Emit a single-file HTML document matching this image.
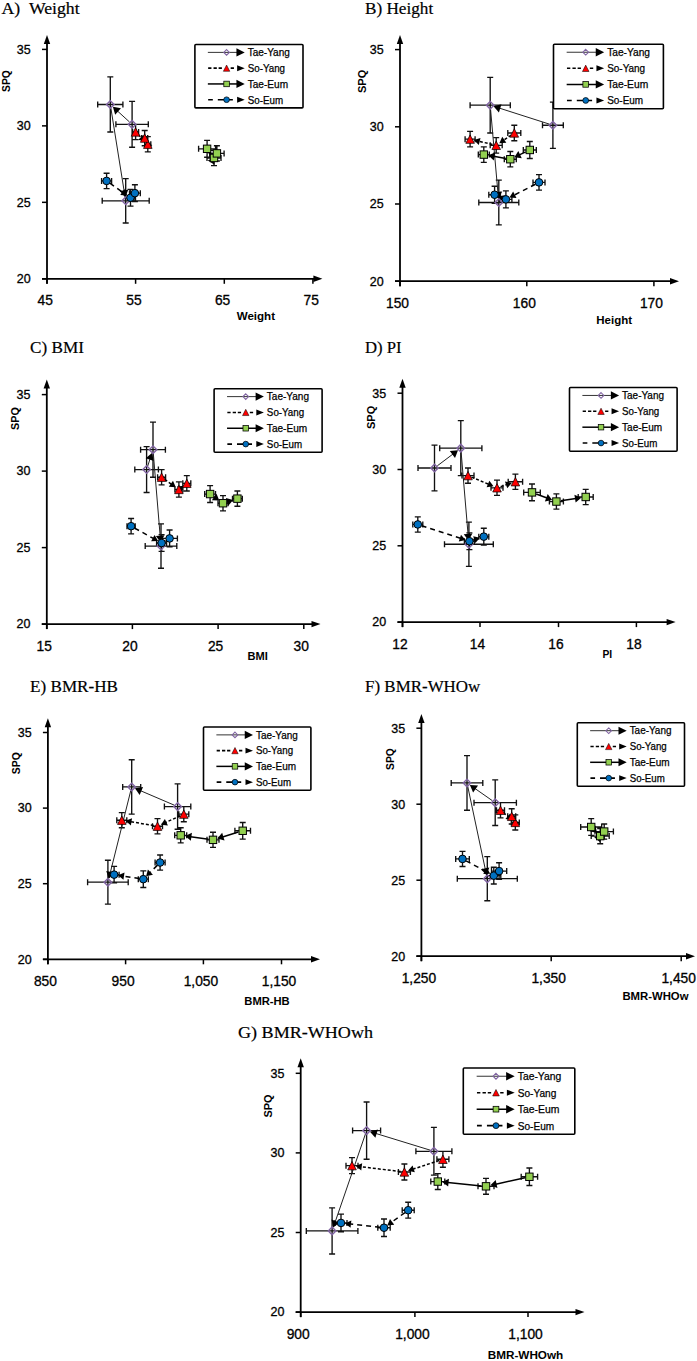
<!DOCTYPE html>
<html><head><meta charset="utf-8"><style>
html,body{margin:0;padding:0;background:#fff;}
svg{display:block;}
</style></head><body>
<svg width="697" height="1361" viewBox="0 0 697 1361">
<rect width="697" height="1361" fill="#fff"/>
<text x="1.4" y="13.6" style="font-family:'Liberation Serif',serif;font-size:17.5px" stroke="#000" stroke-width="0.2" textLength="78.2" lengthAdjust="spacingAndGlyphs">A)  Weight</text>
<path d="M47 283.8V42" stroke="#000" stroke-width="1.8" fill="none"/>
<path d="M47 35L50.2 44L43.8 44Z" fill="#000"/>
<path d="M42 278.8H315.4" stroke="#000" stroke-width="1.8" fill="none"/>
<path d="M322.4 278.8L313.4 275.6L313.4 282Z" fill="#000"/>
<path d="M42 278.8H47" stroke="#000" stroke-width="1.5"/>
<text x="30.7" y="283.1" text-anchor="end" style="font-family:'Liberation Sans',sans-serif;font-size:12.5px" stroke="#000" stroke-width="0.3">20</text>
<path d="M42 202.33H47" stroke="#000" stroke-width="1.5"/>
<text x="30.7" y="206.63" text-anchor="end" style="font-family:'Liberation Sans',sans-serif;font-size:12.5px" stroke="#000" stroke-width="0.3">25</text>
<path d="M42 125.87H47" stroke="#000" stroke-width="1.5"/>
<text x="30.7" y="130.17" text-anchor="end" style="font-family:'Liberation Sans',sans-serif;font-size:12.5px" stroke="#000" stroke-width="0.3">30</text>
<path d="M42 49.4H47" stroke="#000" stroke-width="1.5"/>
<text x="30.7" y="53.7" text-anchor="end" style="font-family:'Liberation Sans',sans-serif;font-size:12.5px" stroke="#000" stroke-width="0.3">35</text>
<path d="M47 278.8V283.8" stroke="#000" stroke-width="1.5"/>
<text x="45.3" y="305.2" text-anchor="middle" style="font-family:'Liberation Sans',sans-serif;font-size:13.8px" stroke="#000" stroke-width="0.3">45</text>
<path d="M135.6 278.8V283.8" stroke="#000" stroke-width="1.5"/>
<text x="133.9" y="305.2" text-anchor="middle" style="font-family:'Liberation Sans',sans-serif;font-size:13.8px" stroke="#000" stroke-width="0.3">55</text>
<path d="M224.3 278.8V283.8" stroke="#000" stroke-width="1.5"/>
<text x="222.6" y="305.2" text-anchor="middle" style="font-family:'Liberation Sans',sans-serif;font-size:13.8px" stroke="#000" stroke-width="0.3">65</text>
<path d="M312.9 278.8V283.8" stroke="#000" stroke-width="1.5"/>
<text x="311.2" y="305.2" text-anchor="middle" style="font-family:'Liberation Sans',sans-serif;font-size:13.8px" stroke="#000" stroke-width="0.3">75</text>
<text x="236.7" y="319.6" style="font-family:'Liberation Sans',sans-serif;font-size:10.5px;font-weight:bold" textLength="38.3" lengthAdjust="spacingAndGlyphs">Weight</text>
<text transform="translate(10.3 92) rotate(-90)" x="0" y="0" style="font-family:'Liberation Sans',sans-serif;font-size:11px;font-weight:bold" textLength="21.8" lengthAdjust="spacingAndGlyphs">SPQ</text>
<path d="M132.1 101.4V147.28M115.9 124.34H148.3M129.1 101.4H135.1M129.1 147.28H135.1M115.9 121.34V127.34M148.3 121.34V127.34M110.3 76.93V131.98M97.7 104.46H122.9M107.3 76.93H113.3M107.3 131.98H113.3M97.7 101.46V107.46M122.9 101.46V107.46M125.7 178.63V222.98M102.2 200.8H149.2M122.7 178.63H128.7M122.7 222.98H128.7M102.2 197.8V203.8M149.2 197.8V203.8M135.6 124.34V139.63M132.6 131.98H138.6M132.6 124.34H138.6M132.6 139.63H138.6M132.6 128.98V134.98M138.6 128.98V134.98M147.8 136.57V151.87M144.8 144.22H150.8M144.8 136.57H150.8M144.8 151.87H150.8M144.8 141.22V147.22M150.8 141.22V147.22M144.7 130.45V145.75M141.7 138.1H147.7M141.7 130.45H147.7M141.7 145.75H147.7M141.7 135.1V141.1M147.7 135.1V141.1M207.1 140.4V157.22M198.6 148.81H215.6M204.1 140.4H210.1M204.1 157.22H210.1M198.6 145.81V151.81M215.6 145.81V151.81M214 150.34V165.63M207 157.98H221M211 150.34H217M211 165.63H217M207 154.98V160.98M221 154.98V160.98M216.9 145.75V161.04M209.7 153.39H224.1M213.9 145.75H219.9M213.9 161.04H219.9M209.7 150.39V156.39M224.1 150.39V156.39M106.6 173.28V188.57M101.6 180.92H111.6M103.6 173.28H109.6M103.6 188.57H109.6M101.6 177.92V183.92M111.6 177.92V183.92M130.5 189.33V206.16M125.5 197.75H135.5M127.5 189.33H133.5M127.5 206.16H133.5M125.5 194.75V200.75M135.5 194.75V200.75M134.9 184.75V201.57M129.5 193.16H140.3M131.9 184.75H137.9M131.9 201.57H137.9M129.5 190.16V196.16M140.3 190.16V196.16" stroke="#111" stroke-width="1.35" fill="none"/>
<path d="M129.51 121.98L116.95 110.52" stroke="#222" stroke-width="1" fill="none"/>
<path d="M112.89 106.81L120.96 108.35L115.16 114.71Z" fill="#000"/>
<path d="M110.85 107.91L124.28 191.92" stroke="#222" stroke-width="1" fill="none"/>
<path d="M125.15 197.35L119.8 191.11L128.29 189.76Z" fill="#000"/>
<path d="M138.28 134.67L141.23 137.63" stroke="#000" stroke-width="1.5" stroke-dasharray="3 2" fill="none"/>
<path d="M145.12 141.53L138.33 139.82L143.43 134.74Z" fill="#000"/>
<path d="M146.08 140.83L148.9 146.4" stroke="#000" stroke-width="1.5" stroke-dasharray="3 2" fill="none"/>
<path d="M146.42 141.49L152.34 145.22L145.92 148.47Z" fill="#000"/>
<path d="M209.8 152.4L207.99 149.99" stroke="#000" stroke-width="1.5" fill="none"/>
<path d="M211.3 154.39L204.31 151.75L210.71 146.95Z" fill="#000"/>
<path d="M216.4 154.18L211.56 161.85" stroke="#000" stroke-width="1.5" fill="none"/>
<path d="M214.5 157.2L214.51 164.66L207.75 160.39Z" fill="#000"/>
<path d="M109.87 183.23L122.73 192.28" stroke="#000" stroke-width="1.5" stroke-dasharray="5 4" fill="none"/>
<path d="M127.23 195.44L120.25 194.93L124.39 189.05Z" fill="#000"/>
<path d="M133.27 194.86L128.32 200.01" stroke="#000" stroke-width="1.5" stroke-dasharray="5 4" fill="none"/>
<path d="M132.13 196.04L130.58 202.87L125.38 197.88Z" fill="#000"/>
<path d="M132.1 120.54L135.9 124.34L132.1 128.14L128.3 124.34Z" fill="none" stroke="#8064A2" stroke-width="1.4"/>
<path d="M110.3 100.66L114.1 104.46L110.3 108.26L106.5 104.46Z" fill="none" stroke="#8064A2" stroke-width="1.4"/>
<path d="M125.7 197L129.5 200.8L125.7 204.6L121.9 200.8Z" fill="none" stroke="#8064A2" stroke-width="1.4"/>
<path d="M135.6 127.78L139.9 136.18L131.3 136.18Z" fill="#FF0000" stroke="#000" stroke-width="0.7" stroke-linejoin="round"/>
<path d="M147.8 140.02L152.1 148.42L143.5 148.42Z" fill="#FF0000" stroke="#000" stroke-width="0.7" stroke-linejoin="round"/>
<path d="M144.7 133.9L149 142.3L140.4 142.3Z" fill="#FF0000" stroke="#000" stroke-width="0.7" stroke-linejoin="round"/>
<rect x="203.4" y="145.11" width="7.4" height="7.4" fill="#92D050" stroke="#000" stroke-width="1"/>
<rect x="210.3" y="154.28" width="7.4" height="7.4" fill="#92D050" stroke="#000" stroke-width="1"/>
<rect x="213.2" y="149.69" width="7.4" height="7.4" fill="#92D050" stroke="#000" stroke-width="1"/>
<circle cx="106.6" cy="180.92" r="3.8" fill="#0070C0" stroke="#000" stroke-width="1"/>
<circle cx="130.5" cy="197.75" r="3.8" fill="#0070C0" stroke="#000" stroke-width="1"/>
<circle cx="134.9" cy="193.16" r="3.8" fill="#0070C0" stroke="#000" stroke-width="1"/>
<rect x="194.9" y="44.5" width="108.1" height="63.4" rx="1" fill="#fff" stroke="#000" stroke-width="1.6"/>
<path d="M207.85 52.39H238.74" stroke="#333" stroke-width="1.0" fill="none"/>
<path d="M244.72 52.39L236.45 48.3L236.45 56.47Z" fill="#000"/>
<path d="M226.58 49.55L229.42 52.39L226.58 55.23L223.74 52.39Z" fill="none" stroke="#8064A2" stroke-width="1.05"/>
<text x="247.7" y="56.17" style="font-family:'Liberation Sans',sans-serif;font-size:10.5px" stroke="#000" stroke-width="0.25" textLength="42.14" lengthAdjust="spacingAndGlyphs">Tae-Yang</text>
<path d="M208.15 68.16H211.44M213.53 68.16H216.82M218.61 68.16H221.9M230.67 68.16H233.96" stroke="#000" stroke-width="1.59" fill="none"/>
<path d="M244.72 68.16L237.14 65.18L237.14 71.15Z" fill="#000"/>
<path d="M226.58 65.03L229.8 71.3L223.37 71.3Z" fill="#FF0000" stroke="#000" stroke-width="0.52" stroke-linejoin="round"/>
<text x="247.7" y="71.95" style="font-family:'Liberation Sans',sans-serif;font-size:10.5px" stroke="#000" stroke-width="0.25" textLength="37.36" lengthAdjust="spacingAndGlyphs">So-Yang</text>
<path d="M207.85 83.94H238.74" stroke="#000" stroke-width="1.5" fill="none"/>
<path d="M244.72 83.94L236.45 79.86L236.45 88.03Z" fill="#000"/>
<rect x="223.82" y="81.18" width="5.53" height="5.53" fill="#92D050" stroke="#000" stroke-width="0.75"/>
<text x="247.7" y="87.73" style="font-family:'Liberation Sans',sans-serif;font-size:10.5px" stroke="#000" stroke-width="0.25" textLength="40.35" lengthAdjust="spacingAndGlyphs">Tae-Eum</text>
<path d="M208.15 99.72H212.83M217.82 99.72H232.86" stroke="#000" stroke-width="1.59" fill="none"/>
<path d="M244.72 99.72L237.14 96.73L237.14 102.71Z" fill="#000"/>
<circle cx="226.58" cy="99.72" r="2.84" fill="#0070C0" stroke="#000" stroke-width="0.75"/>
<text x="247.7" y="103.5" style="font-family:'Liberation Sans',sans-serif;font-size:10.5px" stroke="#000" stroke-width="0.25" textLength="35.37" lengthAdjust="spacingAndGlyphs">So-Eum</text>
<text x="365" y="13.9" style="font-family:'Liberation Serif',serif;font-size:17.5px" stroke="#000" stroke-width="0.2" textLength="68.2" lengthAdjust="spacingAndGlyphs">B) Height</text>
<path d="M400 286.2V41.9" stroke="#000" stroke-width="1.8" fill="none"/>
<path d="M400 34.9L403.2 43.9L396.8 43.9Z" fill="#000"/>
<path d="M395 281.2H672" stroke="#000" stroke-width="1.8" fill="none"/>
<path d="M679 281.2L670 278L670 284.4Z" fill="#000"/>
<path d="M395 281.2H400" stroke="#000" stroke-width="1.5"/>
<text x="383.7" y="285.5" text-anchor="end" style="font-family:'Liberation Sans',sans-serif;font-size:12.5px" stroke="#000" stroke-width="0.3">20</text>
<path d="M395 204H400" stroke="#000" stroke-width="1.5"/>
<text x="383.7" y="208.3" text-anchor="end" style="font-family:'Liberation Sans',sans-serif;font-size:12.5px" stroke="#000" stroke-width="0.3">25</text>
<path d="M395 126.8H400" stroke="#000" stroke-width="1.5"/>
<text x="383.7" y="131.1" text-anchor="end" style="font-family:'Liberation Sans',sans-serif;font-size:12.5px" stroke="#000" stroke-width="0.3">30</text>
<path d="M395 49.6H400" stroke="#000" stroke-width="1.5"/>
<text x="383.7" y="53.9" text-anchor="end" style="font-family:'Liberation Sans',sans-serif;font-size:12.5px" stroke="#000" stroke-width="0.3">35</text>
<path d="M400 281.2V286.2" stroke="#000" stroke-width="1.5"/>
<text x="397.5" y="307.6" text-anchor="middle" style="font-family:'Liberation Sans',sans-serif;font-size:13.8px" stroke="#000" stroke-width="0.3">150</text>
<path d="M526.8 281.2V286.2" stroke="#000" stroke-width="1.5"/>
<text x="524.3" y="307.6" text-anchor="middle" style="font-family:'Liberation Sans',sans-serif;font-size:13.8px" stroke="#000" stroke-width="0.3">160</text>
<path d="M653.9 281.2V286.2" stroke="#000" stroke-width="1.5"/>
<text x="651.4" y="307.6" text-anchor="middle" style="font-family:'Liberation Sans',sans-serif;font-size:13.8px" stroke="#000" stroke-width="0.3">170</text>
<text x="596.3" y="323.8" style="font-family:'Liberation Sans',sans-serif;font-size:10.5px;font-weight:bold" textLength="35.7" lengthAdjust="spacingAndGlyphs">Height</text>
<text transform="translate(365.5 93) rotate(-90)" x="0" y="0" style="font-family:'Liberation Sans',sans-serif;font-size:11px;font-weight:bold" textLength="23.3" lengthAdjust="spacingAndGlyphs">SPQ</text>
<path d="M552.9 102.1V148.42M542.5 125.26H563.3M549.9 102.1H555.9M549.9 148.42H555.9M542.5 122.26V128.26M563.3 122.26V128.26M490.2 77.39V132.98M470.1 105.18H510.3M487.2 77.39H493.2M487.2 132.98H493.2M470.1 102.18V108.18M510.3 102.18V108.18M498.8 180.07V224.84M478.8 202.46H518.8M495.8 180.07H501.8M495.8 224.84H501.8M478.8 199.46V205.46M518.8 199.46V205.46M514.3 125.26V140.7M507.8 132.98H520.8M511.3 125.26H517.3M511.3 140.7H517.3M507.8 129.98V135.98M520.8 129.98V135.98M496.2 137.61V153.05M490.2 145.33H502.2M493.2 137.61H499.2M493.2 153.05H499.2M490.2 142.33V148.33M502.2 142.33V148.33M470.1 131.43V146.87M465.1 139.15H475.1M467.1 131.43H473.1M467.1 146.87H473.1M465.1 136.15V142.15M475.1 136.15V142.15M529.8 141.47V158.45M523.3 149.96H536.3M526.8 141.47H532.8M526.8 158.45H532.8M523.3 146.96V152.96M536.3 146.96V152.96M510.3 151.5V166.94M504.3 159.22H516.3M507.3 151.5H513.3M507.3 166.94H513.3M504.3 156.22V162.22M516.3 156.22V162.22M483.8 146.87V162.31M478.3 154.59H489.3M480.8 146.87H486.8M480.8 162.31H486.8M478.3 151.59V157.59M489.3 151.59V157.59M539 174.66V190.1M533 182.38H545M536 174.66H542M536 190.1H542M533 179.38V185.38M545 179.38V185.38M505.9 190.88V207.86M499.9 199.37H511.9M502.9 190.88H508.9M502.9 207.86H508.9M499.9 196.37V202.37M511.9 196.37V202.37M494.6 186.24V203.23M488.8 194.74H500.4M491.6 186.24H497.6M491.6 203.23H497.6M488.8 191.74V197.74M500.4 191.74V197.74" stroke="#111" stroke-width="1.35" fill="none"/>
<path d="M549.57 124.19L498.77 107.93" stroke="#222" stroke-width="1" fill="none"/>
<path d="M493.53 106.25L501.51 104.29L498.89 112.48Z" fill="#000"/>
<path d="M490.51 108.67L498.01 193.49" stroke="#222" stroke-width="1" fill="none"/>
<path d="M498.49 198.97L493.59 192.38L502.16 191.62Z" fill="#000"/>
<path d="M511.16 135.12L503.88 140.09" stroke="#000" stroke-width="1.5" stroke-dasharray="3 2" fill="none"/>
<path d="M499.34 143.19L502.27 136.83L506.32 142.78Z" fill="#000"/>
<path d="M492.5 144.45L479.15 141.29" stroke="#000" stroke-width="1.5" stroke-dasharray="3 2" fill="none"/>
<path d="M473.8 140.03L480.47 137.91L478.81 144.91Z" fill="#000"/>
<path d="M525.74 151.89L519.33 154.93" stroke="#000" stroke-width="1.5" fill="none"/>
<path d="M514.36 157.29L518.34 150.98L521.77 158.2Z" fill="#000"/>
<path d="M505.87 158.45L493.65 156.31" stroke="#000" stroke-width="1.5" fill="none"/>
<path d="M488.23 155.37L495.13 152.51L493.75 160.39Z" fill="#000"/>
<path d="M535.44 184.21L514.35 195.03" stroke="#000" stroke-width="1.5" stroke-dasharray="5 4" fill="none"/>
<path d="M509.46 197.54L513.15 191.6L516.44 198.01Z" fill="#000"/>
<path d="M502.2 197.85L503.39 198.34" stroke="#000" stroke-width="1.5" stroke-dasharray="5 4" fill="none"/>
<path d="M498.3 196.25L505.22 195.2L502.49 201.86Z" fill="#000"/>
<path d="M552.9 121.46L556.7 125.26L552.9 129.06L549.1 125.26Z" fill="none" stroke="#8064A2" stroke-width="1.4"/>
<path d="M490.2 101.38L494 105.18L490.2 108.98L486.4 105.18Z" fill="none" stroke="#8064A2" stroke-width="1.4"/>
<path d="M498.8 198.66L502.6 202.46L498.8 206.26L495 202.46Z" fill="none" stroke="#8064A2" stroke-width="1.4"/>
<path d="M514.3 128.78L518.6 137.18L510 137.18Z" fill="#FF0000" stroke="#000" stroke-width="0.7" stroke-linejoin="round"/>
<path d="M496.2 141.13L500.5 149.53L491.9 149.53Z" fill="#FF0000" stroke="#000" stroke-width="0.7" stroke-linejoin="round"/>
<path d="M470.1 134.95L474.4 143.35L465.8 143.35Z" fill="#FF0000" stroke="#000" stroke-width="0.7" stroke-linejoin="round"/>
<rect x="526.1" y="146.26" width="7.4" height="7.4" fill="#92D050" stroke="#000" stroke-width="1"/>
<rect x="506.6" y="155.52" width="7.4" height="7.4" fill="#92D050" stroke="#000" stroke-width="1"/>
<rect x="480.1" y="150.89" width="7.4" height="7.4" fill="#92D050" stroke="#000" stroke-width="1"/>
<circle cx="539" cy="182.38" r="3.8" fill="#0070C0" stroke="#000" stroke-width="1"/>
<circle cx="505.9" cy="199.37" r="3.8" fill="#0070C0" stroke="#000" stroke-width="1"/>
<circle cx="494.6" cy="194.74" r="3.8" fill="#0070C0" stroke="#000" stroke-width="1"/>
<rect x="553.5" y="44.2" width="109.9" height="64.6" rx="1" fill="#fff" stroke="#000" stroke-width="1.6"/>
<path d="M566.67 52.24H598.07" stroke="#333" stroke-width="1.0" fill="none"/>
<path d="M604.15 52.24L595.74 48.08L595.74 56.39Z" fill="#000"/>
<path d="M585.71 49.35L588.6 52.24L585.71 55.12L582.82 52.24Z" fill="none" stroke="#8064A2" stroke-width="1.06"/>
<text x="607.18" y="56.09" style="font-family:'Liberation Sans',sans-serif;font-size:10.5px" stroke="#000" stroke-width="0.25" textLength="42.85" lengthAdjust="spacingAndGlyphs">Tae-Yang</text>
<path d="M566.97 68.31H570.31M572.44 68.31H575.78M577.61 68.31H580.95M589.86 68.31H593.21" stroke="#000" stroke-width="1.62" fill="none"/>
<path d="M604.15 68.31L596.45 65.27L596.45 71.35Z" fill="#000"/>
<path d="M585.71 65.12L588.98 71.5L582.44 71.5Z" fill="#FF0000" stroke="#000" stroke-width="0.53" stroke-linejoin="round"/>
<text x="607.18" y="72.16" style="font-family:'Liberation Sans',sans-serif;font-size:10.5px" stroke="#000" stroke-width="0.25" textLength="37.98" lengthAdjust="spacingAndGlyphs">So-Yang</text>
<path d="M566.67 84.39H598.07" stroke="#000" stroke-width="1.5" fill="none"/>
<path d="M604.15 84.39L595.74 80.23L595.74 88.54Z" fill="#000"/>
<rect x="582.9" y="81.58" width="5.62" height="5.62" fill="#92D050" stroke="#000" stroke-width="0.76"/>
<text x="607.18" y="88.24" style="font-family:'Liberation Sans',sans-serif;font-size:10.5px" stroke="#000" stroke-width="0.25" textLength="41.02" lengthAdjust="spacingAndGlyphs">Tae-Eum</text>
<path d="M566.97 100.46H571.73M576.8 100.46H592.09" stroke="#000" stroke-width="1.62" fill="none"/>
<path d="M604.15 100.46L596.45 97.42L596.45 103.5Z" fill="#000"/>
<circle cx="585.71" cy="100.46" r="2.89" fill="#0070C0" stroke="#000" stroke-width="0.76"/>
<text x="607.18" y="104.31" style="font-family:'Liberation Sans',sans-serif;font-size:10.5px" stroke="#000" stroke-width="0.25" textLength="35.96" lengthAdjust="spacingAndGlyphs">So-Eum</text>
<text x="30.1" y="353.2" style="font-family:'Liberation Serif',serif;font-size:17.5px" stroke="#000" stroke-width="0.2" textLength="53.8" lengthAdjust="spacingAndGlyphs">C) BMI</text>
<path d="M46.8 629.1V386.5" stroke="#000" stroke-width="1.8" fill="none"/>
<path d="M46.8 379.5L50 388.5L43.6 388.5Z" fill="#000"/>
<path d="M41.8 624.1H313.5" stroke="#000" stroke-width="1.8" fill="none"/>
<path d="M320.5 624.1L311.5 620.9L311.5 627.3Z" fill="#000"/>
<path d="M41.8 624.1H46.8" stroke="#000" stroke-width="1.5"/>
<text x="30.5" y="628.4" text-anchor="end" style="font-family:'Liberation Sans',sans-serif;font-size:12.5px" stroke="#000" stroke-width="0.3">20</text>
<path d="M41.8 547.6H46.8" stroke="#000" stroke-width="1.5"/>
<text x="30.5" y="551.9" text-anchor="end" style="font-family:'Liberation Sans',sans-serif;font-size:12.5px" stroke="#000" stroke-width="0.3">25</text>
<path d="M41.8 471.1H46.8" stroke="#000" stroke-width="1.5"/>
<text x="30.5" y="475.4" text-anchor="end" style="font-family:'Liberation Sans',sans-serif;font-size:12.5px" stroke="#000" stroke-width="0.3">30</text>
<path d="M41.8 394.6H46.8" stroke="#000" stroke-width="1.5"/>
<text x="30.5" y="398.9" text-anchor="end" style="font-family:'Liberation Sans',sans-serif;font-size:12.5px" stroke="#000" stroke-width="0.3">35</text>
<path d="M46.8 624.1V629.1" stroke="#000" stroke-width="1.5"/>
<text x="44.3" y="650.5" text-anchor="middle" style="font-family:'Liberation Sans',sans-serif;font-size:13.8px" stroke="#000" stroke-width="0.3">15</text>
<path d="M132.4 624.1V629.1" stroke="#000" stroke-width="1.5"/>
<text x="129.9" y="650.5" text-anchor="middle" style="font-family:'Liberation Sans',sans-serif;font-size:13.8px" stroke="#000" stroke-width="0.3">20</text>
<path d="M218.1 624.1V629.1" stroke="#000" stroke-width="1.5"/>
<text x="215.6" y="650.5" text-anchor="middle" style="font-family:'Liberation Sans',sans-serif;font-size:13.8px" stroke="#000" stroke-width="0.3">25</text>
<path d="M303.8 624.1V629.1" stroke="#000" stroke-width="1.5"/>
<text x="301.3" y="650.5" text-anchor="middle" style="font-family:'Liberation Sans',sans-serif;font-size:13.8px" stroke="#000" stroke-width="0.3">30</text>
<text x="247.6" y="659.9" style="font-family:'Liberation Sans',sans-serif;font-size:10.5px;font-weight:bold" textLength="20.3" lengthAdjust="spacingAndGlyphs">BMI</text>
<text transform="translate(18.8 429.9) rotate(-90)" x="0" y="0" style="font-family:'Liberation Sans',sans-serif;font-size:11px;font-weight:bold" textLength="22.8" lengthAdjust="spacingAndGlyphs">SPQ</text>
<path d="M146.6 446.62V492.52M134.8 469.57H158.4M143.6 446.62H149.6M143.6 492.52H149.6M134.8 466.57V472.57M158.4 466.57V472.57M153 422.14V477.22M140.6 449.68H165.4M150 422.14H156M150 477.22H156M140.6 446.68V452.68M165.4 446.68V452.68M161 523.88V568.25M145.2 546.07H176.8M158 523.88H164M158 568.25H164M145.2 543.07V549.07M176.8 543.07V549.07M161.6 469.57V484.87M157.6 477.22H165.6M158.6 469.57H164.6M158.6 484.87H164.6M157.6 474.22V480.22M165.6 474.22V480.22M178.9 481.81V497.11M174.9 489.46H182.9M175.9 481.81H181.9M175.9 497.11H181.9M174.9 486.46V492.46M182.9 486.46V492.46M186.8 475.69V490.99M182.8 483.34H190.8M183.8 475.69H189.8M183.8 490.99H189.8M182.8 480.34V486.34M190.8 480.34V486.34M210.1 485.63V502.47M204.7 494.05H215.5M207.1 485.63H213.1M207.1 502.47H213.1M204.7 491.05V497.05M215.5 491.05V497.05M223 495.58V510.88M218 503.23H228M220 495.58H226M220 510.88H226M218 500.23V506.23M228 500.23V506.23M237.4 490.99V506.29M232.5 498.64H242.3M234.4 490.99H240.4M234.4 506.29H240.4M232.5 495.64V501.64M242.3 495.64V501.64M131.1 518.53V533.83M127 526.18H135.2M128.1 518.53H134.1M128.1 533.83H134.1M127 523.18V529.18M135.2 523.18V529.18M161.6 534.6V551.42M156.6 543.01H166.6M158.6 534.6H164.6M158.6 551.42H164.6M156.6 540.01V546.01M166.6 540.01V546.01M169.6 530V546.83M161.8 538.42H177.4M166.6 530H172.6M166.6 546.83H172.6M161.8 535.42V541.42M177.4 535.42V541.42" stroke="#111" stroke-width="1.35" fill="none"/>
<path d="M147.67 466.24L150.24 458.25" stroke="#222" stroke-width="1" fill="none"/>
<path d="M151.93 453.01L153.88 460.99L145.69 458.36Z" fill="#000"/>
<path d="M153.29 453.17L160.26 537.1" stroke="#222" stroke-width="1" fill="none"/>
<path d="M160.71 542.58L155.85 535.96L164.42 535.25Z" fill="#000"/>
<path d="M164.7 479.41L171.31 484.09" stroke="#000" stroke-width="1.5" stroke-dasharray="3 2" fill="none"/>
<path d="M175.8 487.27L168.82 486.74L172.98 480.86Z" fill="#000"/>
<path d="M181.9 487.13L179.45 489.04" stroke="#000" stroke-width="1.5" stroke-dasharray="3 2" fill="none"/>
<path d="M183.8 485.67L181.26 492.19L176.85 486.5Z" fill="#000"/>
<path d="M213.77 496.66L214.85 497.43" stroke="#000" stroke-width="1.5" fill="none"/>
<path d="M219.33 500.62L211.88 500.23L216.52 493.71Z" fill="#000"/>
<path d="M227.29 501.86L227.87 501.68" stroke="#000" stroke-width="1.5" fill="none"/>
<path d="M233.11 500.01L228.32 505.73L225.9 498.11Z" fill="#000"/>
<path d="M134.6 528.11L153.28 538.42" stroke="#000" stroke-width="1.5" stroke-dasharray="5 4" fill="none"/>
<path d="M158.1 541.08L151.11 541.33L154.58 535.03Z" fill="#000"/>
<path d="M165.07 541.02L161.36 543.15" stroke="#000" stroke-width="1.5" stroke-dasharray="5 4" fill="none"/>
<path d="M166.13 540.41L162.72 546.52L159.13 540.27Z" fill="#000"/>
<path d="M146.6 465.77L150.4 469.57L146.6 473.37L142.8 469.57Z" fill="none" stroke="#8064A2" stroke-width="1.4"/>
<path d="M153 445.88L156.8 449.68L153 453.48L149.2 449.68Z" fill="none" stroke="#8064A2" stroke-width="1.4"/>
<path d="M161 542.27L164.8 546.07L161 549.87L157.2 546.07Z" fill="none" stroke="#8064A2" stroke-width="1.4"/>
<path d="M161.6 473.02L165.9 481.42L157.3 481.42Z" fill="#FF0000" stroke="#000" stroke-width="0.7" stroke-linejoin="round"/>
<path d="M178.9 485.26L183.2 493.66L174.6 493.66Z" fill="#FF0000" stroke="#000" stroke-width="0.7" stroke-linejoin="round"/>
<path d="M186.8 479.14L191.1 487.54L182.5 487.54Z" fill="#FF0000" stroke="#000" stroke-width="0.7" stroke-linejoin="round"/>
<rect x="206.4" y="490.35" width="7.4" height="7.4" fill="#92D050" stroke="#000" stroke-width="1"/>
<rect x="219.3" y="499.53" width="7.4" height="7.4" fill="#92D050" stroke="#000" stroke-width="1"/>
<rect x="233.7" y="494.94" width="7.4" height="7.4" fill="#92D050" stroke="#000" stroke-width="1"/>
<circle cx="131.1" cy="526.18" r="3.8" fill="#0070C0" stroke="#000" stroke-width="1"/>
<circle cx="161.6" cy="543.01" r="3.8" fill="#0070C0" stroke="#000" stroke-width="1"/>
<circle cx="169.6" cy="538.42" r="3.8" fill="#0070C0" stroke="#000" stroke-width="1"/>
<rect x="214.1" y="388.7" width="108" height="63.6" rx="1" fill="#fff" stroke="#000" stroke-width="1.6"/>
<path d="M227.04 396.61H257.9" stroke="#333" stroke-width="1.0" fill="none"/>
<path d="M263.87 396.61L255.61 392.53L255.61 400.69Z" fill="#000"/>
<path d="M245.75 393.78L248.59 396.61L245.75 399.45L242.92 396.61Z" fill="none" stroke="#8064A2" stroke-width="1.05"/>
<text x="266.86" y="400.4" style="font-family:'Liberation Sans',sans-serif;font-size:10.5px" stroke="#000" stroke-width="0.25" textLength="42.11" lengthAdjust="spacingAndGlyphs">Tae-Yang</text>
<path d="M227.34 412.44H230.62M232.71 412.44H236M237.79 412.44H241.08M249.83 412.44H253.12" stroke="#000" stroke-width="1.59" fill="none"/>
<path d="M263.87 412.44L256.3 409.45L256.3 415.42Z" fill="#000"/>
<path d="M245.75 409.3L248.96 415.57L242.54 415.57Z" fill="#FF0000" stroke="#000" stroke-width="0.52" stroke-linejoin="round"/>
<text x="266.86" y="416.22" style="font-family:'Liberation Sans',sans-serif;font-size:10.5px" stroke="#000" stroke-width="0.25" textLength="37.33" lengthAdjust="spacingAndGlyphs">So-Yang</text>
<path d="M227.04 428.26H257.9" stroke="#000" stroke-width="1.5" fill="none"/>
<path d="M263.87 428.26L255.61 424.18L255.61 432.35Z" fill="#000"/>
<rect x="242.99" y="425.5" width="5.52" height="5.52" fill="#92D050" stroke="#000" stroke-width="0.75"/>
<text x="266.86" y="432.05" style="font-family:'Liberation Sans',sans-serif;font-size:10.5px" stroke="#000" stroke-width="0.25" textLength="40.31" lengthAdjust="spacingAndGlyphs">Tae-Eum</text>
<path d="M227.34 444.09H232.02M236.99 444.09H252.02" stroke="#000" stroke-width="1.59" fill="none"/>
<path d="M263.87 444.09L256.3 441.1L256.3 447.08Z" fill="#000"/>
<circle cx="245.75" cy="444.09" r="2.84" fill="#0070C0" stroke="#000" stroke-width="0.75"/>
<text x="266.86" y="447.87" style="font-family:'Liberation Sans',sans-serif;font-size:10.5px" stroke="#000" stroke-width="0.25" textLength="35.34" lengthAdjust="spacingAndGlyphs">So-Eum</text>
<text x="365" y="353.2" style="font-family:'Liberation Serif',serif;font-size:17.5px" stroke="#000" stroke-width="0.2" textLength="36.6" lengthAdjust="spacingAndGlyphs">D) PI</text>
<path d="M402.5 627.1V385.7" stroke="#000" stroke-width="1.8" fill="none"/>
<path d="M402.5 378.7L405.7 387.7L399.3 387.7Z" fill="#000"/>
<path d="M397.5 622.1H668.6" stroke="#000" stroke-width="1.8" fill="none"/>
<path d="M675.6 622.1L666.6 618.9L666.6 625.3Z" fill="#000"/>
<path d="M397.5 622.1H402.5" stroke="#000" stroke-width="1.5"/>
<text x="386.2" y="626.4" text-anchor="end" style="font-family:'Liberation Sans',sans-serif;font-size:12.5px" stroke="#000" stroke-width="0.3">20</text>
<path d="M397.5 545.8H402.5" stroke="#000" stroke-width="1.5"/>
<text x="386.2" y="550.1" text-anchor="end" style="font-family:'Liberation Sans',sans-serif;font-size:12.5px" stroke="#000" stroke-width="0.3">25</text>
<path d="M397.5 469.5H402.5" stroke="#000" stroke-width="1.5"/>
<text x="386.2" y="473.8" text-anchor="end" style="font-family:'Liberation Sans',sans-serif;font-size:12.5px" stroke="#000" stroke-width="0.3">30</text>
<path d="M397.5 393.2H402.5" stroke="#000" stroke-width="1.5"/>
<text x="386.2" y="397.5" text-anchor="end" style="font-family:'Liberation Sans',sans-serif;font-size:12.5px" stroke="#000" stroke-width="0.3">35</text>
<path d="M402.5 622.1V627.1" stroke="#000" stroke-width="1.5"/>
<text x="400" y="648.5" text-anchor="middle" style="font-family:'Liberation Sans',sans-serif;font-size:13.8px" stroke="#000" stroke-width="0.3">12</text>
<path d="M480 622.1V627.1" stroke="#000" stroke-width="1.5"/>
<text x="477.5" y="648.5" text-anchor="middle" style="font-family:'Liberation Sans',sans-serif;font-size:13.8px" stroke="#000" stroke-width="0.3">14</text>
<path d="M558.5 622.1V627.1" stroke="#000" stroke-width="1.5"/>
<text x="556" y="648.5" text-anchor="middle" style="font-family:'Liberation Sans',sans-serif;font-size:13.8px" stroke="#000" stroke-width="0.3">16</text>
<path d="M636.4 622.1V627.1" stroke="#000" stroke-width="1.5"/>
<text x="633.9" y="648.5" text-anchor="middle" style="font-family:'Liberation Sans',sans-serif;font-size:13.8px" stroke="#000" stroke-width="0.3">18</text>
<text x="602.4" y="658.1" style="font-family:'Liberation Sans',sans-serif;font-size:10.5px;font-weight:bold" textLength="9.7" lengthAdjust="spacingAndGlyphs">PI</text>
<text transform="translate(374.7 429) rotate(-90)" x="0" y="0" style="font-family:'Liberation Sans',sans-serif;font-size:11px;font-weight:bold" textLength="23.2" lengthAdjust="spacingAndGlyphs">SPQ</text>
<path d="M434.5 445.08V490.86M418 467.97H451M431.5 445.08H437.5M431.5 490.86H437.5M418 464.97V470.97M451 464.97V470.97M460.8 420.67V475.6M439.7 448.14H481.9M457.8 420.67H463.8M457.8 475.6H463.8M439.7 445.14V451.14M481.9 445.14V451.14M468.9 522.15V566.4M444.5 544.27H493.3M465.9 522.15H471.9M465.9 566.4H471.9M444.5 541.27V547.27M493.3 541.27V547.27M468 467.97V483.23M462 475.6H474M465 467.97H471M465 483.23H471M462 472.6V478.6M474 472.6V478.6M497 480.18V495.44M491 487.81H503M494 480.18H500M494 495.44H500M491 484.81V490.81M503 484.81V490.81M515.4 474.08V489.34M508.2 481.71H522.6M512.4 474.08H518.4M512.4 489.34H518.4M508.2 478.71V484.71M522.6 478.71V484.71M532 484V500.78M523.7 492.39H540.3M529 484H535M529 500.78H535M523.7 489.39V495.39M540.3 489.39V495.39M556.4 493.92V509.18M549.4 501.55H563.4M553.4 493.92H559.4M553.4 509.18H559.4M549.4 498.55V504.55M563.4 498.55V504.55M585.7 489.34V504.6M578.2 496.97H593.2M582.7 489.34H588.7M582.7 504.6H588.7M578.2 493.97V499.97M593.2 493.97V499.97M417.8 516.81V532.07M412.8 524.44H422.8M414.8 516.81H420.8M414.8 532.07H420.8M412.8 521.44V527.44M422.8 521.44V527.44M469.4 532.83V549.62M464.4 541.22H474.4M466.4 532.83H472.4M466.4 549.62H472.4M464.4 538.22V544.22M474.4 538.22V544.22M483.8 528.25V545.04M478.8 536.64H488.8M480.8 528.25H486.8M480.8 545.04H486.8M478.8 533.64V539.64M488.8 533.64V539.64" stroke="#111" stroke-width="1.35" fill="none"/>
<path d="M437.29 465.87L453.61 453.56" stroke="#222" stroke-width="1" fill="none"/>
<path d="M458.01 450.24L455.01 457.89L449.83 451.03Z" fill="#000"/>
<path d="M461.09 451.62L468.14 535.31" stroke="#222" stroke-width="1" fill="none"/>
<path d="M468.61 540.79L463.73 534.17L472.3 533.45Z" fill="#000"/>
<path d="M471.5 477.08L488.43 484.2" stroke="#000" stroke-width="1.5" stroke-dasharray="3 2" fill="none"/>
<path d="M493.5 486.34L486.57 487.33L489.36 480.69Z" fill="#000"/>
<path d="M500.61 486.62L506.57 484.64" stroke="#000" stroke-width="1.5" stroke-dasharray="3 2" fill="none"/>
<path d="M511.79 482.9L507.23 488.21L504.96 481.38Z" fill="#000"/>
<path d="M536.21 493.97L547.04 498.03" stroke="#000" stroke-width="1.5" fill="none"/>
<path d="M552.19 499.97L544.88 501.5L547.69 494.01Z" fill="#000"/>
<path d="M560.85 500.85L575.82 498.51" stroke="#000" stroke-width="1.5" fill="none"/>
<path d="M581.25 497.66L575.65 502.59L574.41 494.68Z" fill="#000"/>
<path d="M421.6 525.67L460.37 538.28" stroke="#000" stroke-width="1.5" stroke-dasharray="5 4" fill="none"/>
<path d="M465.6 539.98L458.78 541.55L461 534.71Z" fill="#000"/>
<path d="M473.21 540.01L474.75 539.52" stroke="#000" stroke-width="1.5" stroke-dasharray="5 4" fill="none"/>
<path d="M479.99 537.86L475.36 543.1L473.18 536.24Z" fill="#000"/>
<path d="M434.5 464.17L438.3 467.97L434.5 471.77L430.7 467.97Z" fill="none" stroke="#8064A2" stroke-width="1.4"/>
<path d="M460.8 444.34L464.6 448.14L460.8 451.94L457 448.14Z" fill="none" stroke="#8064A2" stroke-width="1.4"/>
<path d="M468.9 540.47L472.7 544.27L468.9 548.07L465.1 544.27Z" fill="none" stroke="#8064A2" stroke-width="1.4"/>
<path d="M468 471.4L472.3 479.8L463.7 479.8Z" fill="#FF0000" stroke="#000" stroke-width="0.7" stroke-linejoin="round"/>
<path d="M497 483.61L501.3 492.01L492.7 492.01Z" fill="#FF0000" stroke="#000" stroke-width="0.7" stroke-linejoin="round"/>
<path d="M515.4 477.51L519.7 485.91L511.1 485.91Z" fill="#FF0000" stroke="#000" stroke-width="0.7" stroke-linejoin="round"/>
<rect x="528.3" y="488.69" width="7.4" height="7.4" fill="#92D050" stroke="#000" stroke-width="1"/>
<rect x="552.7" y="497.85" width="7.4" height="7.4" fill="#92D050" stroke="#000" stroke-width="1"/>
<rect x="582" y="493.27" width="7.4" height="7.4" fill="#92D050" stroke="#000" stroke-width="1"/>
<circle cx="417.8" cy="524.44" r="3.8" fill="#0070C0" stroke="#000" stroke-width="1"/>
<circle cx="469.4" cy="541.22" r="3.8" fill="#0070C0" stroke="#000" stroke-width="1"/>
<circle cx="483.8" cy="536.64" r="3.8" fill="#0070C0" stroke="#000" stroke-width="1"/>
<rect x="569.5" y="387.5" width="107.6" height="63.8" rx="1" fill="#fff" stroke="#000" stroke-width="1.6"/>
<path d="M582.39 395.44H613.14" stroke="#333" stroke-width="1.0" fill="none"/>
<path d="M619.09 395.44L610.85 391.37L610.85 399.5Z" fill="#000"/>
<path d="M601.04 392.61L603.86 395.44L601.04 398.26L598.21 395.44Z" fill="none" stroke="#8064A2" stroke-width="1.04"/>
<text x="622.06" y="399.21" style="font-family:'Liberation Sans',sans-serif;font-size:10.5px" stroke="#000" stroke-width="0.25" textLength="41.95" lengthAdjust="spacingAndGlyphs">Tae-Yang</text>
<path d="M582.69 411.31H585.96M588.04 411.31H591.32M593.1 411.31H596.38M605.1 411.31H608.37" stroke="#000" stroke-width="1.59" fill="none"/>
<path d="M619.09 411.31L611.55 408.34L611.55 414.29Z" fill="#000"/>
<path d="M601.04 408.19L604.23 414.44L597.84 414.44Z" fill="#FF0000" stroke="#000" stroke-width="0.52" stroke-linejoin="round"/>
<text x="622.06" y="415.08" style="font-family:'Liberation Sans',sans-serif;font-size:10.5px" stroke="#000" stroke-width="0.25" textLength="37.19" lengthAdjust="spacingAndGlyphs">So-Yang</text>
<path d="M582.39 427.19H613.14" stroke="#000" stroke-width="1.5" fill="none"/>
<path d="M619.09 427.19L610.85 423.12L610.85 431.25Z" fill="#000"/>
<rect x="598.28" y="424.44" width="5.5" height="5.5" fill="#92D050" stroke="#000" stroke-width="0.74"/>
<text x="622.06" y="430.96" style="font-family:'Liberation Sans',sans-serif;font-size:10.5px" stroke="#000" stroke-width="0.25" textLength="40.16" lengthAdjust="spacingAndGlyphs">Tae-Eum</text>
<path d="M582.69 443.06H587.35M592.31 443.06H607.28" stroke="#000" stroke-width="1.59" fill="none"/>
<path d="M619.09 443.06L611.55 440.09L611.55 446.04Z" fill="#000"/>
<circle cx="601.04" cy="443.06" r="2.83" fill="#0070C0" stroke="#000" stroke-width="0.74"/>
<text x="622.06" y="446.83" style="font-family:'Liberation Sans',sans-serif;font-size:10.5px" stroke="#000" stroke-width="0.25" textLength="35.21" lengthAdjust="spacingAndGlyphs">So-Eum</text>
<text x="30.1" y="692.4" style="font-family:'Liberation Serif',serif;font-size:17.5px" stroke="#000" stroke-width="0.2" textLength="87.8" lengthAdjust="spacingAndGlyphs">E) BMR-HB</text>
<path d="M47.9 964.3V725.2" stroke="#000" stroke-width="1.8" fill="none"/>
<path d="M47.9 718.2L51.1 727.2L44.7 727.2Z" fill="#000"/>
<path d="M42.9 959.3H313" stroke="#000" stroke-width="1.8" fill="none"/>
<path d="M320 959.3L311 956.1L311 962.5Z" fill="#000"/>
<path d="M42.9 959.3H47.9" stroke="#000" stroke-width="1.5"/>
<text x="31.6" y="963.6" text-anchor="end" style="font-family:'Liberation Sans',sans-serif;font-size:12.5px" stroke="#000" stroke-width="0.3">20</text>
<path d="M42.9 883.7H47.9" stroke="#000" stroke-width="1.5"/>
<text x="31.6" y="888" text-anchor="end" style="font-family:'Liberation Sans',sans-serif;font-size:12.5px" stroke="#000" stroke-width="0.3">25</text>
<path d="M42.9 808.1H47.9" stroke="#000" stroke-width="1.5"/>
<text x="31.6" y="812.4" text-anchor="end" style="font-family:'Liberation Sans',sans-serif;font-size:12.5px" stroke="#000" stroke-width="0.3">30</text>
<path d="M42.9 732.5H47.9" stroke="#000" stroke-width="1.5"/>
<text x="31.6" y="736.8" text-anchor="end" style="font-family:'Liberation Sans',sans-serif;font-size:12.5px" stroke="#000" stroke-width="0.3">35</text>
<path d="M47.9 959.3V964.3" stroke="#000" stroke-width="1.5"/>
<text x="45.4" y="985.7" text-anchor="middle" style="font-family:'Liberation Sans',sans-serif;font-size:13.8px" stroke="#000" stroke-width="0.3">850</text>
<path d="M125.6 959.3V964.3" stroke="#000" stroke-width="1.5"/>
<text x="123.1" y="985.7" text-anchor="middle" style="font-family:'Liberation Sans',sans-serif;font-size:13.8px" stroke="#000" stroke-width="0.3">950</text>
<path d="M203.4 959.3V964.3" stroke="#000" stroke-width="1.5"/>
<text x="200.9" y="985.7" text-anchor="middle" style="font-family:'Liberation Sans',sans-serif;font-size:13.8px" stroke="#000" stroke-width="0.3">1,050</text>
<path d="M281.5 959.3V964.3" stroke="#000" stroke-width="1.5"/>
<text x="279" y="985.7" text-anchor="middle" style="font-family:'Liberation Sans',sans-serif;font-size:13.8px" stroke="#000" stroke-width="0.3">1,150</text>
<text x="244.3" y="1004.6" style="font-family:'Liberation Sans',sans-serif;font-size:10.5px;font-weight:bold" textLength="45.4" lengthAdjust="spacingAndGlyphs">BMR-HB</text>
<text transform="translate(20 774.2) rotate(-90)" x="0" y="0" style="font-family:'Liberation Sans',sans-serif;font-size:11px;font-weight:bold" textLength="21.9" lengthAdjust="spacingAndGlyphs">SPQ</text>
<path d="M177.6 783.91V829.27M164.4 806.59H190.8M174.6 783.91H180.6M174.6 829.27H180.6M164.4 803.59V809.59M190.8 803.59V809.59M131.7 759.72V814.15M122.7 786.93H140.7M128.7 759.72H134.7M128.7 814.15H134.7M122.7 783.93V789.93M140.7 783.93V789.93M107.9 860.26V904.11M87.6 882.19H128.2M104.9 860.26H110.9M104.9 904.11H110.9M87.6 879.19V885.19M128.2 879.19V885.19M183.8 806.59V821.71M178.8 814.15H188.8M180.8 806.59H186.8M180.8 821.71H186.8M178.8 811.15V817.15M188.8 811.15V817.15M157.5 818.68V833.8M152.5 826.24H162.5M154.5 818.68H160.5M154.5 833.8H160.5M152.5 823.24V829.24M162.5 823.24V829.24M121.8 812.64V827.76M116.8 820.2H126.8M118.8 812.64H124.8M118.8 827.76H124.8M116.8 817.2V823.2M126.8 817.2V823.2M242.7 822.46V839.1M234.9 830.78H250.5M239.7 822.46H245.7M239.7 839.1H245.7M234.9 827.78V833.78M250.5 827.78V833.78M213 832.29V847.41M207 839.85H219M210 832.29H216M210 847.41H216M207 836.85V842.85M219 836.85V842.85M180.7 827.76V842.88M174.7 835.32H186.7M177.7 827.76H183.7M177.7 842.88H183.7M174.7 832.32V838.32M186.7 832.32V838.32M160.1 854.97V870.09M155.1 862.53H165.1M157.1 854.97H163.1M157.1 870.09H163.1M155.1 859.53V865.53M165.1 859.53V865.53M143.3 870.85V887.48M138.3 879.16H148.3M140.3 870.85H146.3M140.3 887.48H146.3M138.3 876.16V882.16M148.3 876.16V882.16M114.1 866.31V882.94M109.1 874.63H119.1M111.1 866.31H117.1M111.1 882.94H117.1M109.1 871.63V877.63M119.1 871.63V877.63" stroke="#111" stroke-width="1.35" fill="none"/>
<path d="M174.38 805.21L139.97 790.47" stroke="#222" stroke-width="1" fill="none"/>
<path d="M134.92 788.31L143.04 787.11L139.66 795.02Z" fill="#000"/>
<path d="M130.85 790.33L110.08 873.46" stroke="#222" stroke-width="1" fill="none"/>
<path d="M108.75 878.79L106.27 870.96L114.62 873.04Z" fill="#000"/>
<path d="M180.35 815.74L165.95 822.36" stroke="#000" stroke-width="1.5" stroke-dasharray="3 2" fill="none"/>
<path d="M160.95 824.66L164.9 818.88L167.91 825.42Z" fill="#000"/>
<path d="M153.75 825.61L130.97 821.75" stroke="#000" stroke-width="1.5" stroke-dasharray="3 2" fill="none"/>
<path d="M125.55 820.83L132.06 818.28L130.86 825.38Z" fill="#000"/>
<path d="M238.4 832.09L222.56 836.93" stroke="#000" stroke-width="1.5" fill="none"/>
<path d="M217.3 838.54L222.16 832.87L224.5 840.52Z" fill="#000"/>
<path d="M208.54 839.23L190.6 836.71" stroke="#000" stroke-width="1.5" fill="none"/>
<path d="M185.16 835.94L191.95 832.86L190.84 840.78Z" fill="#000"/>
<path d="M157.26 865.35L150.05 872.48" stroke="#000" stroke-width="1.5" stroke-dasharray="5 4" fill="none"/>
<path d="M146.14 876.35L147.87 869.57L152.94 874.69Z" fill="#000"/>
<path d="M139.35 878.55L123.49 876.09" stroke="#000" stroke-width="1.5" stroke-dasharray="5 4" fill="none"/>
<path d="M118.05 875.24L124.53 872.61L123.43 879.72Z" fill="#000"/>
<path d="M177.6 802.79L181.4 806.59L177.6 810.39L173.8 806.59Z" fill="none" stroke="#8064A2" stroke-width="1.4"/>
<path d="M131.7 783.13L135.5 786.93L131.7 790.73L127.9 786.93Z" fill="none" stroke="#8064A2" stroke-width="1.4"/>
<path d="M107.9 878.39L111.7 882.19L107.9 885.99L104.1 882.19Z" fill="none" stroke="#8064A2" stroke-width="1.4"/>
<path d="M183.8 809.95L188.1 818.35L179.5 818.35Z" fill="#FF0000" stroke="#000" stroke-width="0.7" stroke-linejoin="round"/>
<path d="M157.5 822.04L161.8 830.44L153.2 830.44Z" fill="#FF0000" stroke="#000" stroke-width="0.7" stroke-linejoin="round"/>
<path d="M121.8 816L126.1 824.4L117.5 824.4Z" fill="#FF0000" stroke="#000" stroke-width="0.7" stroke-linejoin="round"/>
<rect x="239" y="827.08" width="7.4" height="7.4" fill="#92D050" stroke="#000" stroke-width="1"/>
<rect x="209.3" y="836.15" width="7.4" height="7.4" fill="#92D050" stroke="#000" stroke-width="1"/>
<rect x="177" y="831.62" width="7.4" height="7.4" fill="#92D050" stroke="#000" stroke-width="1"/>
<circle cx="160.1" cy="862.53" r="3.8" fill="#0070C0" stroke="#000" stroke-width="1"/>
<circle cx="143.3" cy="879.16" r="3.8" fill="#0070C0" stroke="#000" stroke-width="1"/>
<circle cx="114.1" cy="874.63" r="3.8" fill="#0070C0" stroke="#000" stroke-width="1"/>
<rect x="203.5" y="727" width="107.4" height="63.3" rx="1" fill="#fff" stroke="#000" stroke-width="1.6"/>
<path d="M216.37 734.88H247.05" stroke="#333" stroke-width="1.0" fill="none"/>
<path d="M252.99 734.88L244.78 730.82L244.78 738.93Z" fill="#000"/>
<path d="M234.98 732.05L237.8 734.88L234.98 737.7L232.16 734.88Z" fill="none" stroke="#8064A2" stroke-width="1.04"/>
<text x="255.96" y="738.64" style="font-family:'Liberation Sans',sans-serif;font-size:10.5px" stroke="#000" stroke-width="0.25" textLength="41.87" lengthAdjust="spacingAndGlyphs">Tae-Yang</text>
<path d="M216.67 750.63H219.93M222.01 750.63H225.28M227.06 750.63H230.33M239.04 750.63H242.3" stroke="#000" stroke-width="1.58" fill="none"/>
<path d="M252.99 750.63L245.47 747.66L245.47 753.6Z" fill="#000"/>
<path d="M234.98 747.51L238.17 753.74L231.79 753.74Z" fill="#FF0000" stroke="#000" stroke-width="0.52" stroke-linejoin="round"/>
<text x="255.96" y="754.39" style="font-family:'Liberation Sans',sans-serif;font-size:10.5px" stroke="#000" stroke-width="0.25" textLength="37.12" lengthAdjust="spacingAndGlyphs">So-Yang</text>
<path d="M216.37 766.38H247.05" stroke="#000" stroke-width="1.5" fill="none"/>
<path d="M252.99 766.38L244.78 762.32L244.78 770.44Z" fill="#000"/>
<rect x="232.23" y="763.63" width="5.49" height="5.49" fill="#92D050" stroke="#000" stroke-width="0.74"/>
<text x="255.96" y="770.14" style="font-family:'Liberation Sans',sans-serif;font-size:10.5px" stroke="#000" stroke-width="0.25" textLength="40.09" lengthAdjust="spacingAndGlyphs">Tae-Eum</text>
<path d="M216.67 782.13H221.32M226.27 782.13H241.21" stroke="#000" stroke-width="1.58" fill="none"/>
<path d="M252.99 782.13L245.47 779.16L245.47 785.1Z" fill="#000"/>
<circle cx="234.98" cy="782.13" r="2.82" fill="#0070C0" stroke="#000" stroke-width="0.74"/>
<text x="255.96" y="785.89" style="font-family:'Liberation Sans',sans-serif;font-size:10.5px" stroke="#000" stroke-width="0.25" textLength="35.14" lengthAdjust="spacingAndGlyphs">So-Eum</text>
<text x="365.1" y="692" style="font-family:'Liberation Serif',serif;font-size:17.5px" stroke="#000" stroke-width="0.2" textLength="115.2" lengthAdjust="spacingAndGlyphs">F) BMR-WHOw</text>
<path d="M421.4 961.2V720.9" stroke="#000" stroke-width="1.8" fill="none"/>
<path d="M421.4 713.9L424.6 722.9L418.2 722.9Z" fill="#000"/>
<path d="M416.4 956.2H688" stroke="#000" stroke-width="1.8" fill="none"/>
<path d="M695 956.2L686 953L686 959.4Z" fill="#000"/>
<path d="M416.4 956.2H421.4" stroke="#000" stroke-width="1.5"/>
<text x="405.1" y="960.5" text-anchor="end" style="font-family:'Liberation Sans',sans-serif;font-size:12.5px" stroke="#000" stroke-width="0.3">20</text>
<path d="M416.4 880.2H421.4" stroke="#000" stroke-width="1.5"/>
<text x="405.1" y="884.5" text-anchor="end" style="font-family:'Liberation Sans',sans-serif;font-size:12.5px" stroke="#000" stroke-width="0.3">25</text>
<path d="M416.4 804.2H421.4" stroke="#000" stroke-width="1.5"/>
<text x="405.1" y="808.5" text-anchor="end" style="font-family:'Liberation Sans',sans-serif;font-size:12.5px" stroke="#000" stroke-width="0.3">30</text>
<path d="M416.4 728.2H421.4" stroke="#000" stroke-width="1.5"/>
<text x="405.1" y="732.5" text-anchor="end" style="font-family:'Liberation Sans',sans-serif;font-size:12.5px" stroke="#000" stroke-width="0.3">35</text>
<path d="M421.4 956.2V961.2" stroke="#000" stroke-width="1.5"/>
<text x="418.9" y="982.6" text-anchor="middle" style="font-family:'Liberation Sans',sans-serif;font-size:13.8px" stroke="#000" stroke-width="0.3">1,250</text>
<path d="M551.2 956.2V961.2" stroke="#000" stroke-width="1.5"/>
<text x="548.7" y="982.6" text-anchor="middle" style="font-family:'Liberation Sans',sans-serif;font-size:13.8px" stroke="#000" stroke-width="0.3">1,350</text>
<path d="M681.2 956.2V961.2" stroke="#000" stroke-width="1.5"/>
<text x="678.7" y="982.6" text-anchor="middle" style="font-family:'Liberation Sans',sans-serif;font-size:13.8px" stroke="#000" stroke-width="0.3">1,450</text>
<text x="622.4" y="999.9" style="font-family:'Liberation Sans',sans-serif;font-size:10.5px;font-weight:bold" textLength="66.1" lengthAdjust="spacingAndGlyphs">BMR-WHOw</text>
<text transform="translate(394.1 769.9) rotate(-90)" x="0" y="0" style="font-family:'Liberation Sans',sans-serif;font-size:11px;font-weight:bold" textLength="21.6" lengthAdjust="spacingAndGlyphs">SPQ</text>
<path d="M495.2 779.88V825.48M474 802.68H516.4M492.2 779.88H498.2M492.2 825.48H498.2M474 799.68V805.68M516.4 799.68V805.68M467 755.56V810.28M451.2 782.92H482.8M464 755.56H470M464 810.28H470M451.2 779.92V785.92M482.8 779.92V785.92M487.3 856.64V900.72M457.3 878.68H517.3M484.3 856.64H490.3M484.3 900.72H490.3M457.3 875.68V881.68M517.3 875.68V881.68M500.5 802.68V817.88M496.5 810.28H504.5M497.5 802.68H503.5M497.5 817.88H503.5M496.5 807.28V813.28M504.5 807.28V813.28M515.3 814.84V830.04M511.3 822.44H519.3M512.3 814.84H518.3M512.3 830.04H518.3M511.3 819.44V825.44M519.3 819.44V825.44M511.7 808.76V823.96M507.7 816.36H515.7M508.7 808.76H514.7M508.7 823.96H514.7M507.7 813.36V819.36M515.7 813.36V819.36M591.2 818.64V835.36M580.7 827H601.7M588.2 818.64H594.2M588.2 835.36H594.2M580.7 824V830M601.7 824V830M600.2 828.52V843.72M591.2 836.12H609.2M597.2 828.52H603.2M597.2 843.72H603.2M591.2 833.12V839.12M609.2 833.12V839.12M604.2 823.96V839.16M595 831.56H613.4M601.2 823.96H607.2M601.2 839.16H607.2M595 828.56V834.56M613.4 828.56V834.56M462.5 851.32V866.52M455.7 858.92H469.3M459.5 851.32H465.5M459.5 866.52H465.5M455.7 855.92V861.92M469.3 855.92V861.92M493.8 867.28V884M486.8 875.64H500.8M490.8 867.28H496.8M490.8 884H496.8M486.8 872.64V878.64M500.8 872.64V878.64M499.1 862.72V879.44M491.5 871.08H506.7M496.1 862.72H502.1M496.1 879.44H502.1M491.5 868.08V874.08M506.7 868.08V874.08" stroke="#111" stroke-width="1.35" fill="none"/>
<path d="M492.33 800.67L474.37 788.08" stroke="#222" stroke-width="1" fill="none"/>
<path d="M469.87 784.93L478.07 785.42L473.13 792.47Z" fill="#000"/>
<path d="M467.73 786.34L485.43 869.88" stroke="#222" stroke-width="1" fill="none"/>
<path d="M486.57 875.26L480.92 869.3L489.33 867.52Z" fill="#000"/>
<path d="M503.44 812.69L508.11 816.54" stroke="#000" stroke-width="1.5" stroke-dasharray="3 2" fill="none"/>
<path d="M512.36 820.03L505.44 819L510.01 813.44Z" fill="#000"/>
<path d="M513.36 819.17L516.44 824.36" stroke="#000" stroke-width="1.5" stroke-dasharray="3 2" fill="none"/>
<path d="M513.64 819.63L519.79 822.96L513.6 826.63Z" fill="#000"/>
<path d="M594.36 830.2L593.18 829" stroke="#000" stroke-width="1.5" fill="none"/>
<path d="M597.04 832.92L589.77 831.24L595.46 825.62Z" fill="#000"/>
<path d="M603.17 832.74L597.61 839.08" stroke="#000" stroke-width="1.5" fill="none"/>
<path d="M601.23 834.94L600.09 842.32L594.07 837.04Z" fill="#000"/>
<path d="M466.03 860.8L485.42 871.16" stroke="#000" stroke-width="1.5" stroke-dasharray="5 4" fill="none"/>
<path d="M490.27 873.76L483.28 874.1L486.68 867.75Z" fill="#000"/>
<path d="M496.83 873.03L491.9 877.28" stroke="#000" stroke-width="1.5" stroke-dasharray="5 4" fill="none"/>
<path d="M496.07 873.69L493.87 880.33L489.17 874.87Z" fill="#000"/>
<path d="M495.2 798.88L499 802.68L495.2 806.48L491.4 802.68Z" fill="none" stroke="#8064A2" stroke-width="1.4"/>
<path d="M467 779.12L470.8 782.92L467 786.72L463.2 782.92Z" fill="none" stroke="#8064A2" stroke-width="1.4"/>
<path d="M487.3 874.88L491.1 878.68L487.3 882.48L483.5 878.68Z" fill="none" stroke="#8064A2" stroke-width="1.4"/>
<path d="M500.5 806.08L504.8 814.48L496.2 814.48Z" fill="#FF0000" stroke="#000" stroke-width="0.7" stroke-linejoin="round"/>
<path d="M515.3 818.24L519.6 826.64L511 826.64Z" fill="#FF0000" stroke="#000" stroke-width="0.7" stroke-linejoin="round"/>
<path d="M511.7 812.16L516 820.56L507.4 820.56Z" fill="#FF0000" stroke="#000" stroke-width="0.7" stroke-linejoin="round"/>
<rect x="587.5" y="823.3" width="7.4" height="7.4" fill="#92D050" stroke="#000" stroke-width="1"/>
<rect x="596.5" y="832.42" width="7.4" height="7.4" fill="#92D050" stroke="#000" stroke-width="1"/>
<rect x="600.5" y="827.86" width="7.4" height="7.4" fill="#92D050" stroke="#000" stroke-width="1"/>
<circle cx="462.5" cy="858.92" r="3.8" fill="#0070C0" stroke="#000" stroke-width="1"/>
<circle cx="493.8" cy="875.64" r="3.8" fill="#0070C0" stroke="#000" stroke-width="1"/>
<circle cx="499.1" cy="871.08" r="3.8" fill="#0070C0" stroke="#000" stroke-width="1"/>
<rect x="577.3" y="722.8" width="107.2" height="63.5" rx="1" fill="#fff" stroke="#000" stroke-width="1.6"/>
<path d="M590.14 730.7H620.77" stroke="#333" stroke-width="1.0" fill="none"/>
<path d="M626.7 730.7L618.5 726.65L618.5 734.75Z" fill="#000"/>
<path d="M608.72 727.88L611.53 730.7L608.72 733.52L605.9 730.7Z" fill="none" stroke="#8064A2" stroke-width="1.04"/>
<text x="629.66" y="734.45" style="font-family:'Liberation Sans',sans-serif;font-size:10.5px" stroke="#000" stroke-width="0.25" textLength="41.79" lengthAdjust="spacingAndGlyphs">Tae-Yang</text>
<path d="M590.44 746.5H593.7M595.78 746.5H599.04M600.81 746.5H604.08M612.77 746.5H616.03" stroke="#000" stroke-width="1.58" fill="none"/>
<path d="M626.7 746.5L619.19 743.54L619.19 749.47Z" fill="#000"/>
<path d="M608.72 743.39L611.91 749.61L605.53 749.61Z" fill="#FF0000" stroke="#000" stroke-width="0.52" stroke-linejoin="round"/>
<text x="629.66" y="750.26" style="font-family:'Liberation Sans',sans-serif;font-size:10.5px" stroke="#000" stroke-width="0.25" textLength="37.05" lengthAdjust="spacingAndGlyphs">So-Yang</text>
<path d="M590.14 762.3H620.77" stroke="#000" stroke-width="1.5" fill="none"/>
<path d="M626.7 762.3L618.5 758.25L618.5 766.35Z" fill="#000"/>
<rect x="605.98" y="759.56" width="5.48" height="5.48" fill="#92D050" stroke="#000" stroke-width="0.74"/>
<text x="629.66" y="766.06" style="font-family:'Liberation Sans',sans-serif;font-size:10.5px" stroke="#000" stroke-width="0.25" textLength="40.01" lengthAdjust="spacingAndGlyphs">Tae-Eum</text>
<path d="M590.44 778.1H595.08M600.02 778.1H614.94" stroke="#000" stroke-width="1.58" fill="none"/>
<path d="M626.7 778.1L619.19 775.14L619.19 781.07Z" fill="#000"/>
<circle cx="608.72" cy="778.1" r="2.82" fill="#0070C0" stroke="#000" stroke-width="0.74"/>
<text x="629.66" y="781.86" style="font-family:'Liberation Sans',sans-serif;font-size:10.5px" stroke="#000" stroke-width="0.25" textLength="35.07" lengthAdjust="spacingAndGlyphs">So-Eum</text>
<text x="238" y="1038" style="font-family:'Liberation Serif',serif;font-size:17.5px" stroke="#000" stroke-width="0.2" textLength="135" lengthAdjust="spacingAndGlyphs">G) BMR-WHOwh</text>
<path d="M300.7 1317.1V1065.2" stroke="#000" stroke-width="1.8" fill="none"/>
<path d="M300.7 1058.2L303.9 1067.2L297.5 1067.2Z" fill="#000"/>
<path d="M295.7 1312.1H577.5" stroke="#000" stroke-width="1.8" fill="none"/>
<path d="M584.5 1312.1L575.5 1308.9L575.5 1315.3Z" fill="#000"/>
<path d="M295.7 1312.1H300.7" stroke="#000" stroke-width="1.5"/>
<text x="284.4" y="1316.4" text-anchor="end" style="font-family:'Liberation Sans',sans-serif;font-size:12.5px" stroke="#000" stroke-width="0.3">20</text>
<path d="M295.7 1232.5H300.7" stroke="#000" stroke-width="1.5"/>
<text x="284.4" y="1236.8" text-anchor="end" style="font-family:'Liberation Sans',sans-serif;font-size:12.5px" stroke="#000" stroke-width="0.3">25</text>
<path d="M295.7 1152.9H300.7" stroke="#000" stroke-width="1.5"/>
<text x="284.4" y="1157.2" text-anchor="end" style="font-family:'Liberation Sans',sans-serif;font-size:12.5px" stroke="#000" stroke-width="0.3">30</text>
<path d="M295.7 1073.3H300.7" stroke="#000" stroke-width="1.5"/>
<text x="284.4" y="1077.6" text-anchor="end" style="font-family:'Liberation Sans',sans-serif;font-size:12.5px" stroke="#000" stroke-width="0.3">35</text>
<path d="M300.7 1312.1V1317.1" stroke="#000" stroke-width="1.5"/>
<text x="298.2" y="1338.5" text-anchor="middle" style="font-family:'Liberation Sans',sans-serif;font-size:13.8px" stroke="#000" stroke-width="0.3">900</text>
<path d="M414.9 1312.1V1317.1" stroke="#000" stroke-width="1.5"/>
<text x="412.4" y="1338.5" text-anchor="middle" style="font-family:'Liberation Sans',sans-serif;font-size:13.8px" stroke="#000" stroke-width="0.3">1,000</text>
<path d="M528 1312.1V1317.1" stroke="#000" stroke-width="1.5"/>
<text x="525.5" y="1338.5" text-anchor="middle" style="font-family:'Liberation Sans',sans-serif;font-size:13.8px" stroke="#000" stroke-width="0.3">1,100</text>
<text x="487.7" y="1359.4" style="font-family:'Liberation Sans',sans-serif;font-size:10.5px;font-weight:bold" textLength="75.6" lengthAdjust="spacingAndGlyphs">BMR-WHOwh</text>
<text transform="translate(271.7 1117.5) rotate(-90)" x="0" y="0" style="font-family:'Liberation Sans',sans-serif;font-size:11px;font-weight:bold" textLength="23.1" lengthAdjust="spacingAndGlyphs">SPQ</text>
<path d="M433.9 1127.43V1175.19M415.9 1151.31H451.9M430.9 1127.43H436.9M430.9 1175.19H436.9M415.9 1148.31V1154.31M451.9 1148.31V1154.31M366.6 1101.96V1159.27M352.6 1130.61H380.6M363.6 1101.96H369.6M363.6 1159.27H369.6M352.6 1127.61V1133.61M380.6 1127.61V1133.61M332.1 1207.82V1253.99M306.3 1230.91H357.9M329.1 1207.82H335.1M329.1 1253.99H335.1M306.3 1227.91V1233.91M357.9 1227.91V1233.91M442.9 1151.31V1167.23M436.9 1159.27H448.9M439.9 1151.31H445.9M439.9 1167.23H445.9M436.9 1156.27V1162.27M448.9 1156.27V1162.27M404.4 1164.04V1179.96M398.4 1172H410.4M401.4 1164.04H407.4M401.4 1179.96H407.4M398.4 1169V1175M410.4 1169V1175M352 1157.68V1173.6M346 1165.64H358M349 1157.68H355M349 1173.6H355M346 1162.64V1168.64M358 1162.64V1168.64M529.4 1168.02V1185.54M521.2 1176.78H537.6M526.4 1168.02H532.4M526.4 1185.54H532.4M521.2 1173.78V1179.78M537.6 1173.78V1179.78M486 1178.37V1194.29M478 1186.33H494M483 1178.37H489M483 1194.29H489M478 1183.33V1189.33M494 1183.33V1189.33M437.8 1173.6V1189.52M430.8 1181.56H444.8M434.8 1173.6H440.8M434.8 1189.52H440.8M430.8 1178.56V1184.56M444.8 1178.56V1184.56M408.2 1202.25V1218.17M402.2 1210.21H414.2M405.2 1202.25H411.2M405.2 1218.17H411.2M402.2 1207.21V1213.21M414.2 1207.21V1213.21M384 1218.97V1236.48M377.8 1227.72H390.2M381 1218.97H387M381 1236.48H387M377.8 1224.72V1230.72M390.2 1224.72V1230.72M341 1214.19V1231.7M335 1222.95H347M338 1214.19H344M338 1231.7H344M335 1219.95V1225.95M347 1219.95V1225.95" stroke="#111" stroke-width="1.35" fill="none"/>
<path d="M430.55 1150.28L375.2 1133.26" stroke="#222" stroke-width="1" fill="none"/>
<path d="M369.95 1131.64L377.9 1129.59L375.37 1137.81Z" fill="#000"/>
<path d="M365.46 1133.92L335.03 1222.4" stroke="#222" stroke-width="1" fill="none"/>
<path d="M333.24 1227.6L331.45 1219.58L339.58 1222.38Z" fill="#000"/>
<path d="M439.29 1160.46L413.23 1169.08" stroke="#000" stroke-width="1.5" stroke-dasharray="3 2" fill="none"/>
<path d="M408.01 1170.81L412.57 1165.51L414.83 1172.34Z" fill="#000"/>
<path d="M400.63 1171.55L361.23 1166.76" stroke="#000" stroke-width="1.5" stroke-dasharray="3 2" fill="none"/>
<path d="M355.77 1166.09L362.16 1163.24L361.29 1170.39Z" fill="#000"/>
<path d="M525.01 1177.75L495.77 1184.18" stroke="#000" stroke-width="1.5" fill="none"/>
<path d="M490.39 1185.36L495.69 1180.1L497.41 1187.92Z" fill="#000"/>
<path d="M481.52 1185.89L447.75 1182.54" stroke="#000" stroke-width="1.5" fill="none"/>
<path d="M442.28 1182L448.94 1178.64L448.15 1186.6Z" fill="#000"/>
<path d="M404.96 1212.56L391.7 1222.15" stroke="#000" stroke-width="1.5" stroke-dasharray="5 4" fill="none"/>
<path d="M387.24 1225.38L389.99 1218.95L394.21 1224.78Z" fill="#000"/>
<path d="M380.02 1227.28L350.44 1224" stroke="#000" stroke-width="1.5" stroke-dasharray="5 4" fill="none"/>
<path d="M344.98 1223.39L351.34 1220.47L350.54 1227.63Z" fill="#000"/>
<path d="M433.9 1147.51L437.7 1151.31L433.9 1155.11L430.1 1151.31Z" fill="none" stroke="#8064A2" stroke-width="1.4"/>
<path d="M366.6 1126.81L370.4 1130.61L366.6 1134.41L362.8 1130.61Z" fill="none" stroke="#8064A2" stroke-width="1.4"/>
<path d="M332.1 1227.11L335.9 1230.91L332.1 1234.71L328.3 1230.91Z" fill="none" stroke="#8064A2" stroke-width="1.4"/>
<path d="M442.9 1155.07L447.2 1163.47L438.6 1163.47Z" fill="#FF0000" stroke="#000" stroke-width="0.7" stroke-linejoin="round"/>
<path d="M404.4 1167.8L408.7 1176.2L400.1 1176.2Z" fill="#FF0000" stroke="#000" stroke-width="0.7" stroke-linejoin="round"/>
<path d="M352 1161.44L356.3 1169.84L347.7 1169.84Z" fill="#FF0000" stroke="#000" stroke-width="0.7" stroke-linejoin="round"/>
<rect x="525.7" y="1173.08" width="7.4" height="7.4" fill="#92D050" stroke="#000" stroke-width="1"/>
<rect x="482.3" y="1182.63" width="7.4" height="7.4" fill="#92D050" stroke="#000" stroke-width="1"/>
<rect x="434.1" y="1177.86" width="7.4" height="7.4" fill="#92D050" stroke="#000" stroke-width="1"/>
<circle cx="408.2" cy="1210.21" r="3.8" fill="#0070C0" stroke="#000" stroke-width="1"/>
<circle cx="384" cy="1227.72" r="3.8" fill="#0070C0" stroke="#000" stroke-width="1"/>
<circle cx="341" cy="1222.95" r="3.8" fill="#0070C0" stroke="#000" stroke-width="1"/>
<rect x="463.3" y="1068" width="111.5" height="66.2" rx="1" fill="#fff" stroke="#000" stroke-width="1.6"/>
<path d="M476.66 1076.24H508.52" stroke="#333" stroke-width="1.0" fill="none"/>
<path d="M514.68 1076.24L506.15 1072.02L506.15 1080.45Z" fill="#000"/>
<path d="M495.98 1073.31L498.91 1076.24L495.98 1079.17L493.05 1076.24Z" fill="none" stroke="#8064A2" stroke-width="1.08"/>
<text x="517.77" y="1080.14" style="font-family:'Liberation Sans',sans-serif;font-size:10.5px" stroke="#000" stroke-width="0.25" textLength="43.47" lengthAdjust="spacingAndGlyphs">Tae-Yang</text>
<path d="M476.97 1092.71H480.36M482.52 1092.71H485.91M487.76 1092.71H491.15M500.19 1092.71H503.58" stroke="#000" stroke-width="1.64" fill="none"/>
<path d="M514.68 1092.71L506.87 1089.63L506.87 1095.79Z" fill="#000"/>
<path d="M495.98 1089.47L499.29 1095.95L492.67 1095.95Z" fill="#FF0000" stroke="#000" stroke-width="0.54" stroke-linejoin="round"/>
<text x="517.77" y="1096.61" style="font-family:'Liberation Sans',sans-serif;font-size:10.5px" stroke="#000" stroke-width="0.25" textLength="38.54" lengthAdjust="spacingAndGlyphs">So-Yang</text>
<path d="M476.66 1109.18H508.52" stroke="#000" stroke-width="1.5" fill="none"/>
<path d="M514.68 1109.18L506.15 1104.97L506.15 1113.4Z" fill="#000"/>
<rect x="493.13" y="1106.33" width="5.7" height="5.7" fill="#92D050" stroke="#000" stroke-width="0.77"/>
<text x="517.77" y="1113.09" style="font-family:'Liberation Sans',sans-serif;font-size:10.5px" stroke="#000" stroke-width="0.25" textLength="41.62" lengthAdjust="spacingAndGlyphs">Tae-Eum</text>
<path d="M476.97 1125.65H481.8M486.94 1125.65H502.45" stroke="#000" stroke-width="1.64" fill="none"/>
<path d="M514.68 1125.65L506.87 1122.57L506.87 1128.74Z" fill="#000"/>
<circle cx="495.98" cy="1125.65" r="2.93" fill="#0070C0" stroke="#000" stroke-width="0.77"/>
<text x="517.77" y="1129.56" style="font-family:'Liberation Sans',sans-serif;font-size:10.5px" stroke="#000" stroke-width="0.25" textLength="36.48" lengthAdjust="spacingAndGlyphs">So-Eum</text>
</svg>
</body></html>
